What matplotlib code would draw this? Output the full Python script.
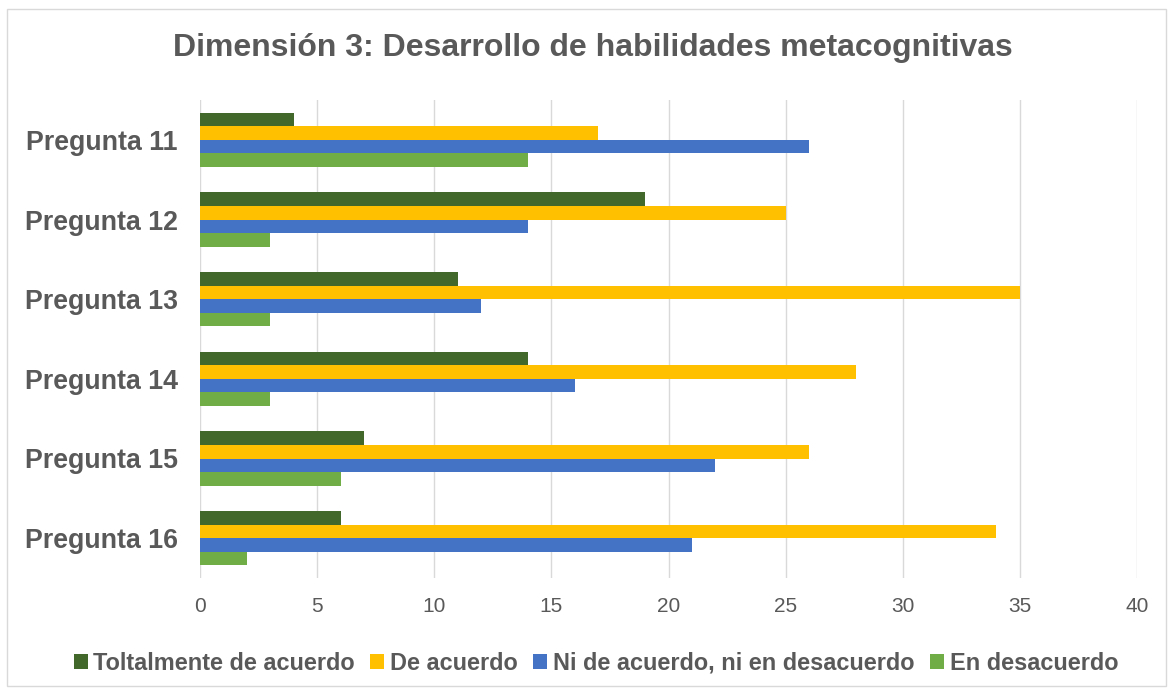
import matplotlib.pyplot as plt
import numpy as np
from matplotlib.patches import Rectangle

plt.rcParams["font.family"] = ["Liberation Sans", "DejaVu Sans"]

preguntas = ["Pregunta 11", "Pregunta 12", "Pregunta 13",
             "Pregunta 14", "Pregunta 15", "Pregunta 16"]
series = ["Toltalmente de acuerdo", "De acuerdo",
          "Ni de acuerdo, ni en desacuerdo", "En desacuerdo"]
totalmente = [4, 19, 11, 14, 7, 6]
de_acuerdo = [17, 25, 35, 28, 26, 34]
ni_ni = [26, 14, 12, 16, 22, 21]
desacuerdo = [14, 3, 3, 3, 6, 2]
colores = ["#43682B", "#FFC000", "#4472C4", "#70AD47"]

gris = "#595959"

fig = plt.figure(figsize=(11.74, 6.94), dpi=100)
ax = fig.add_axes([200 / 1174, 1 - 578 / 694, 937 / 1174, 478 / 694])

y = np.arange(len(preguntas))
h = 0.17
valores = [totalmente, de_acuerdo, ni_ni, desacuerdo]
for i, (vals, col, lab) in enumerate(zip(valores, colores, series)):
    ax.barh(y + (i - 1.5) * h, vals, height=h, color=col, label=lab, zorder=3)

ax.set_ylim(len(preguntas) - 0.5, -0.5)
ax.set_xlim(0, 40)
ax.set_xticks(range(0, 41, 5))
ax.set_yticks(y)
ax.set_yticklabels(preguntas, fontsize=19.3, fontweight="bold", color=gris)
ax.tick_params(axis="x", labelsize=15, colors=gris, length=0, pad=14)
ax.tick_params(axis="y", length=0, pad=16)
ax.grid(axis="x", color="#D9D9D9", lw=1, zorder=0)
for s in ax.spines.values():
    s.set_visible(False)

fig.text(593 / 1174, 1 - 48 / 694, "Dimensión 3: Desarrollo de habilidades metacognitivas",
         ha="center", va="center", fontsize=23, fontweight="bold", color=gris)

leg = fig.legend(loc="center", bbox_to_anchor=(596 / 1174, 1 - 663 / 694), ncol=4,
                 frameon=False, handlelength=0.6, handleheight=0.6,
                 handletextpad=0.25, columnspacing=0.65,
                 prop={"size": 16.9, "weight": "bold"})
for t in leg.get_texts():
    t.set_color(gris)

fig.patches.append(Rectangle((7 / 1174, 8 / 694), 1159 / 1174, 677 / 694,
                             transform=fig.transFigure, fill=False,
                             edgecolor="#D9D9D9", lw=1))

fig.savefig("out.png", dpi=100)
